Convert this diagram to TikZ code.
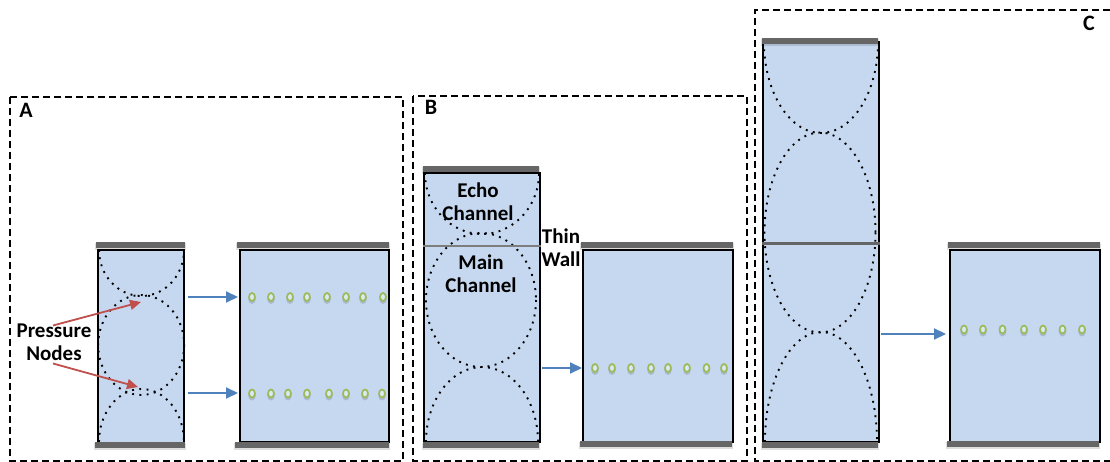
\documentclass[tikz,border=0pt]{standalone}
\usepackage{fontspec}
\setmainfont{Carlito}
\usetikzlibrary{arrows.meta}
\definecolor{chanblue}{HTML}{C6D8EF}
\definecolor{plategrey}{HTML}{666666}
\definecolor{arrowblue}{HTML}{4F81BD}
\definecolor{arrowred}{HTML}{C0504D}
\definecolor{dotgreen}{HTML}{9BBB59}
\tikzset{
  x=1pt,y=-1pt,
  panel/.style={draw=black,line width=1.5pt,dash pattern=on 7pt off 4pt},
  chan/.style={draw=black,fill=chanblue,line width=2pt},
  plate/.style={fill=plategrey,draw=none},
  plateshade/.style={fill=black,opacity=.13,draw=none},
  wave/.style={draw=black,line width=1.9pt,dash pattern=on 1.9pt off 5.4pt},
  flow/.style={draw=arrowblue,line width=2pt,-{Triangle[length=12pt,width=11pt]}},
  pointer/.style={draw=arrowred,line width=1.8pt,-{Triangle[length=11pt,width=10pt]}},
  label/.style={font=\bfseries\fontsize{21}{23}\selectfont,inner sep=0pt,align=center,text=black},
  tag/.style={font=\bfseries\fontsize{22}{24}\selectfont,inner sep=0pt,text=black},
}
\newcommand{\plateat}[3]{% x1 x2 yc
  \fill[plateshade] (#1-1,#3-2) rectangle (#2+1,#3+5);
  \fill[plate] (#1,#3-3) rectangle (#2,#3+3);
}
\newcommand{\beads}[2]{% y, list of x
  \foreach \bx in {#2} {
    \fill[black,opacity=.14] (\bx,#1+2) ellipse [x radius=3.8,y radius=5];
    \draw[draw=dotgreen,line width=1.7pt,fill=chanblue!60!white] (\bx,#1) ellipse [x radius=3,y radius=4];
  }
}
\begin{document}
\begin{tikzpicture}
\useasboundingbox (0,0) rectangle (1110,462);
% panels
\draw[panel] (10,97) rectangle (403,461);
\draw[panel] (413,96) rectangle (747,461);
\draw[panel] (1110,10) -- (755,10) -- (755,461) -- (1110,461);
\node[tag] (tA) at (26,110) {A};
\node[tag] (tB) at (431,107) {B};
\node[tag] (tC) at (1089,23) {C};

% ---------- A
\node[chan,minimum width=85.5pt,minimum height=193pt,inner sep=0pt] (a1) at (141.2,346.5) {};
\draw[wave] (99,250) arc[start angle=180,end angle=0,x radius=42.5,y radius=46];
\draw[wave] (141.2,345) ellipse[x radius=43,y radius=50];
\draw[wave] (99,442) arc[start angle=180,end angle=360,x radius=42.5,y radius=53];
\plateat{96}{185}{245}
\plateat{95}{185}{445}
\node[chan,minimum width=149.5pt,minimum height=192pt,inner sep=0pt] (a2) at (314.7,346) {};
\plateat{237}{389}{245}
\plateat{235}{389}{445}
\beads{297}{252,271,290,307,327,346,363,383}
\beads{393.5}{252,271,288,307,329,346,365,382}
\coordinate (af1) at (188,297); \coordinate (at1) at (238,297);
\coordinate (af2) at (188,393); \coordinate (at2) at (238,393);
\draw[flow] (af1) -- (at1);
\draw[flow] (af2) -- (at2);
\node[label] (pn) at (54,342) {Pressure\\[0pt]Nodes};
\coordinate (pf1) at (53,325.5); \coordinate (pt1) at (141,302);
\coordinate (pf2) at (53,363.5); \coordinate (pt2) at (138,387);
\draw[pointer] (pf1) -- (pt1);
\draw[pointer] (pf2) -- (pt2);

% ---------- B
\node[chan,minimum width=116pt,minimum height=269pt,inner sep=0pt] (b1) at (482,307.5) {};
\draw[wave] (425,173) arc[start angle=180,end angle=0,x radius=57,y radius=61];
\draw[wave] (481,300) ellipse[x radius=55,y radius=67];
\draw[wave] (426,442) arc[start angle=180,end angle=360,x radius=56,y radius=75];
\draw[draw=plategrey!85!white,line width=1.5pt] (b1.west |- 0,246) -- (b1.east |- 0,246);
\plateat{423}{539}{169}
\plateat{423}{539}{445}
\node[chan,minimum width=150pt,minimum height=192pt,inner sep=0pt] (b2) at (658,346) {};
\plateat{581}{733}{245}
\plateat{580}{732}{444}
\beads{368}{595,612,631,651,668,687,706.5,724}
\coordinate (bf) at (542,368); \coordinate (bt) at (582,368);
\draw[flow] (bf) -- (bt);
\node[label] (echo) at (478,202) {Echo\\[0pt]Channel};
\node[label] (main) at (481,273.5) {Main\\[0pt]Channel};
\node[label] (thin) at (561,248) {Thin\\[0pt]Wall};

% ---------- C
\node[chan,minimum width=116pt,minimum height=400pt,inner sep=0pt] (c1) at (821,242) {};
\draw[wave] (764,42) arc[start angle=180,end angle=0,x radius=57,y radius=91];
\draw[wave] (820,232.5) ellipse[x radius=55.5,y radius=100];
\draw[wave] (765,442) arc[start angle=180,end angle=360,x radius=56,y radius=110];
\draw[draw=plategrey,line width=3pt] (c1.west |- 0,244) -- (c1.east |- 0,244);
\plateat{762}{878}{41}
\plateat{762}{878}{445}
\node[chan,minimum width=150pt,minimum height=192pt,inner sep=0pt] (c2) at (1025,346) {};
\plateat{948}{1100}{245}
\plateat{947}{1099}{444}
\beads{329.5}{964,983,1002.5,1024,1043,1062.5,1082}
\coordinate (cf) at (881,334); \coordinate (ct) at (946,334);
\draw[flow] (cf) -- (ct);
\end{tikzpicture}
\end{document}
